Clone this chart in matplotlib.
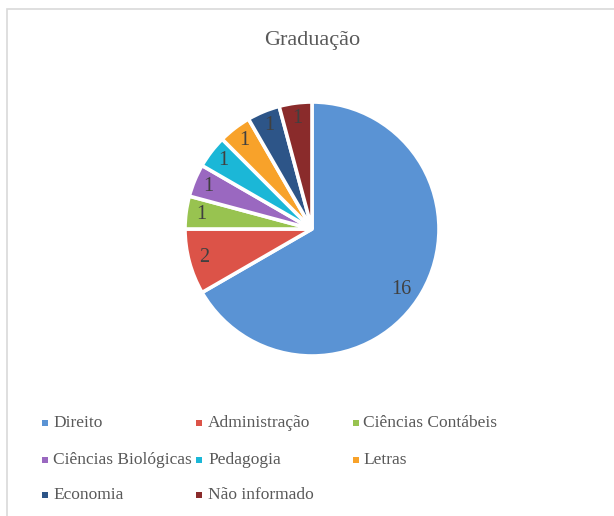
import matplotlib
matplotlib.use("Agg")
import matplotlib.pyplot as plt
from matplotlib.patches import Rectangle
import numpy as np

categories = ["Direito", "Administração", "Ciências Contábeis", "Ciências Biológicas",
              "Pedagogia", "Letras", "Economia", "Não informado"]
values = [16, 2, 1, 1, 1, 1, 1, 1]
colors = ["#5A93D4", "#DC5348", "#98C350", "#9A68C0", "#1BB7D7", "#F8A22A", "#2D5588", "#8A2B2B"]
title = "Graduação"

W, H = 614, 516
fig = plt.figure(figsize=(W / 100, H / 100), dpi=100)
plt.rcParams['font.family'] = ['Liberation Serif', 'DejaVu Serif']

# border (light gray)
fig.add_artist(Rectangle((7 / W, -0.1), 1.2, 1 - 9 / H + 0.1, transform=fig.transFigure,
                         fill=False, edgecolor="#D9D9D9", linewidth=1.2))

cx, cy, R = 312, 229, 127
ax = fig.add_axes([(cx - R) / W, (H - cy - R) / H, 2 * R / W, 2 * R / H])
total = sum(values)
wedges, texts, autotexts = ax.pie(
    values, colors=colors, startangle=90, counterclock=False, radius=1,
    autopct=lambda p: f"{round(p * total / 100)}", pctdistance=0.88,
    wedgeprops=dict(edgecolor="white", linewidth=2.6),
    textprops=dict(color="#404040", fontsize=14.5))
# big slice label slightly more inward
w0 = wedges[0]
mid = np.deg2rad((w0.theta1 + w0.theta2) / 2 - 4)
autotexts[0].set_position((0.845 * np.cos(mid), 0.845 * np.sin(mid)))
ax.set_xlim(-1, 1)
ax.set_ylim(-1, 1)
ax.set_aspect("equal")
ax.axis("off")

fig.text(312 / W, 1 - 40 / H, title, ha="center", va="center", fontsize=16, color="#595959")

# legend (row-major, 3 columns)
col_marker = [45, 199, 356]
col_text = [53, 208, 363]
row_y = [423, 460, 495]
for i, (lab, c) in enumerate(zip(categories, colors)):
    r, k = divmod(i, 3)
    y = 1 - row_y[r] / H
    fig.add_artist(Rectangle(((col_marker[k] - 3) / W, y - 3 / H), 6 / W, 6 / H,
                             transform=fig.transFigure, facecolor=c, edgecolor="none"))
    fig.text(col_text[k] / W, y, lab, ha="left", va="center", fontsize=12.5, color="#595959")

fig.savefig("out.png", dpi=100, facecolor="white")
